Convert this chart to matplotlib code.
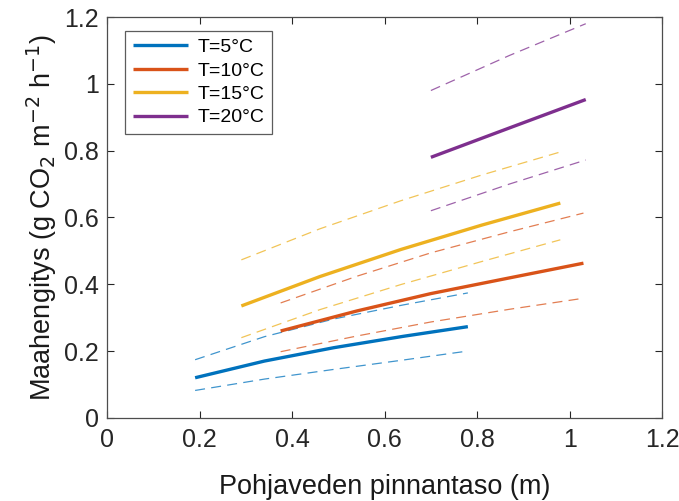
import matplotlib
matplotlib.use("Agg")
import matplotlib.pyplot as plt

plt.rcParams["font.family"] = ["Liberation Sans", "DejaVu Sans"]

labels = ["T=5°C", "T=10°C", "T=15°C", "T=20°C"]
colors = ["#0072BD", "#D95319", "#EDB120", "#7E2F8E"]

# groundwater level (m)
x5 = [0.19, 0.34, 0.49, 0.64, 0.78]
x10 = [0.375, 0.54, 0.70, 0.87, 1.03]
x15 = [0.29, 0.46, 0.635, 0.81, 0.98]
x20 = [0.70, 0.87, 1.035]

# soil respiration, mean and bounds
mean5 = [0.12, 0.170, 0.210, 0.244, 0.273]
upper5 = [0.174, 0.243, 0.296, 0.338, 0.374]
lower5 = [0.082, 0.116, 0.145, 0.173, 0.20]

mean10 = [0.26, 0.320, 0.372, 0.419, 0.463]
upper10 = [0.344, 0.424, 0.494, 0.557, 0.613]
lower10 = [0.198, 0.245, 0.287, 0.325, 0.358]

mean15 = [0.335, 0.423, 0.504, 0.577, 0.643]
upper15 = [0.473, 0.566, 0.650, 0.727, 0.796]
lower15 = [0.24, 0.324, 0.399, 0.468, 0.533]

mean20 = [0.78, 0.868, 0.953]
upper20 = [0.98, 1.085, 1.18]
lower20 = [0.62, 0.70, 0.772]

xs = [x5, x10, x15, x20]
means = [mean5, mean10, mean15, mean20]
uppers = [upper5, upper10, upper15, upper20]
lowers = [lower5, lower10, lower15, lower20]

fig = plt.figure(figsize=(6.79, 5.01), dpi=100)
ax = fig.add_axes([0.158, 0.166, 0.817, 0.800])

for x, m, u, l, c, lab in zip(xs, means, uppers, lowers, colors, labels):
    ax.plot(x, m, color=c, lw=2.4, label=lab, solid_capstyle="butt")
    ax.plot(x, u, color=c, lw=0.9, ls=(0, (8, 5)), alpha=0.75)
    ax.plot(x, l, color=c, lw=0.9, ls=(0, (8, 5)), alpha=0.75)

ticks = [0, 0.2, 0.4, 0.6, 0.8, 1, 1.2]
tick_labels = ["0", "0.2", "0.4", "0.6", "0.8", "1", "1.2"]
ax.set_xlim(0, 1.2)
ax.set_ylim(0, 1.2)
ax.set_xticks(ticks)
ax.set_xticklabels(tick_labels)
ax.set_yticks(ticks)
ax.set_yticklabels(tick_labels)
ax.tick_params(direction="in", top=True, right=True, labelsize=18,
               colors="#262626", length=5, width=0.8)
ax.tick_params(axis="x", pad=7)
ax.tick_params(axis="y", pad=6)
for s in ax.spines.values():
    s.set_color("#4d4d4d")
    s.set_linewidth(0.9)

ax.set_xlabel("Pohjaveden pinnantaso (m)", fontsize=19.5, color="#1a1a1a", labelpad=16)
ax.set_ylabel(r"Maahengitys (g CO$_2$ m$^{-2}$ h$^{-1}$)", fontsize=19.5,
              color="#1a1a1a", labelpad=4)

leg = ax.legend(loc="upper left", fontsize=14, frameon=True, fancybox=False,
                edgecolor="#333333", handlelength=2.8, borderpad=0.4,
                labelspacing=0.3, handletextpad=0.5, bbox_to_anchor=(0.015, 0.99))
leg.get_frame().set_linewidth(0.9)

fig.savefig("out.png", dpi=100)
